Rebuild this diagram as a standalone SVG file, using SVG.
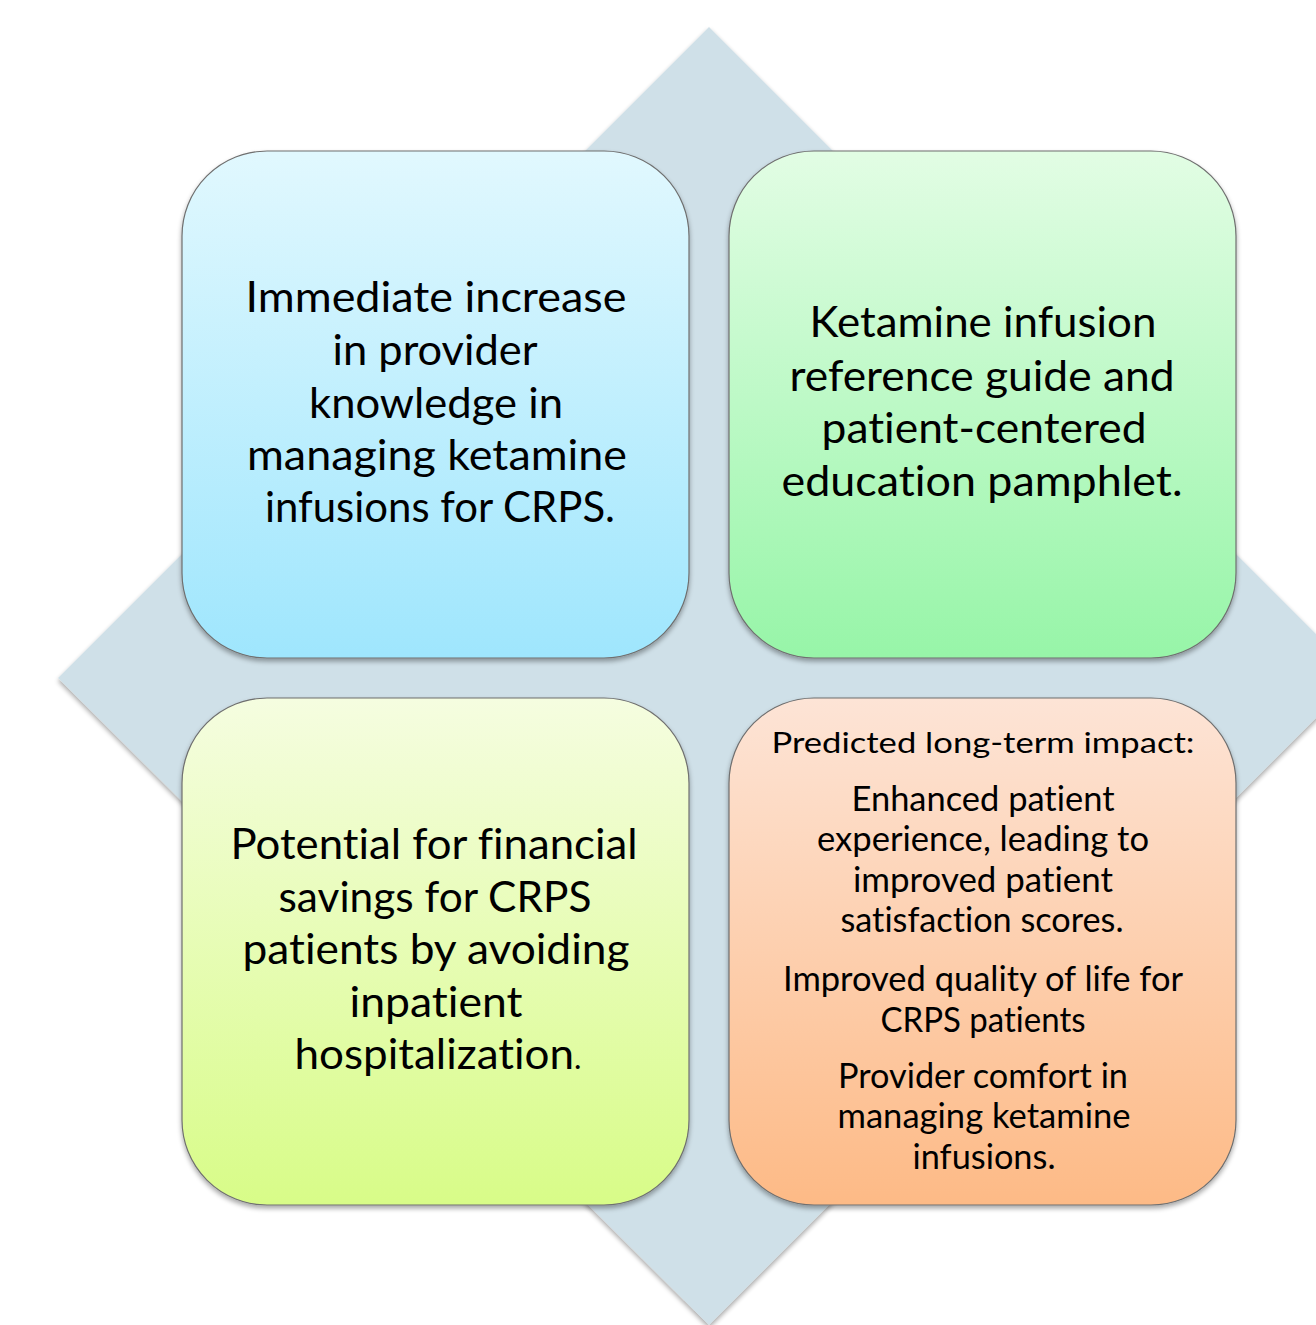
<svg xmlns="http://www.w3.org/2000/svg" width="1316" height="1325" viewBox="0 0 1316 1325">
  <defs>
    <linearGradient id="gBlue" x1="0" y1="0" x2="0" y2="1">
      <stop offset="0" stop-color="#e1f8fe"/>
      <stop offset="1" stop-color="#9fe6fd"/>
    </linearGradient>
    <linearGradient id="gGreen" x1="0" y1="0" x2="0" y2="1">
      <stop offset="0" stop-color="#e2fde4"/>
      <stop offset="1" stop-color="#97f5a8"/>
    </linearGradient>
    <linearGradient id="gLime" x1="0" y1="0" x2="0" y2="1">
      <stop offset="0" stop-color="#f5fde0"/>
      <stop offset="1" stop-color="#d8fc88"/>
    </linearGradient>
    <linearGradient id="gPeach" x1="0" y1="0" x2="0" y2="1">
      <stop offset="0" stop-color="#fde4d6"/>
      <stop offset="1" stop-color="#fdba86"/>
    </linearGradient>
    <filter id="shadow" x="-10%" y="-10%" width="120%" height="120%">
      <feGaussianBlur in="SourceAlpha" stdDeviation="2.5"/>
      <feOffset dx="0" dy="3" result="off"/>
      <feComponentTransfer><feFuncA type="linear" slope="0.35"/></feComponentTransfer>
      <feMerge><feMergeNode/><feMergeNode in="SourceGraphic"/></feMerge>
    </filter>
  </defs>
  <style>
    .box { stroke: #6f6f6f; stroke-width: 1.2; filter: url(#shadow); }
    text { font-family: Lato, "Liberation Sans", sans-serif; fill: #000; text-anchor: middle; font-variant-ligatures: none; }
    .big { font-size: 42px; }
    .mid { font-size: 35px; }
    .small { font-size: 28px; }
  </style>

  <!-- background diamond -->
  <polygon id="diamond" points="709,27 1358,676 709,1325 58,678" fill="#cfe0e8" filter="url(#shadow)"/>

  <g id="node-knowledge">
    <rect class="box" x="182" y="151" width="507" height="507" rx="85" ry="85" fill="url(#gBlue)"/>
    <text class="big" x="436" y="312" textLength="381" lengthAdjust="spacingAndGlyphs">Immediate increase</text>
    <text class="big" x="435" y="365" textLength="205" lengthAdjust="spacingAndGlyphs">in provider</text>
    <text class="big" x="436" y="418" textLength="254" lengthAdjust="spacingAndGlyphs">knowledge in</text>
    <text class="big" x="437" y="470" textLength="380" lengthAdjust="spacingAndGlyphs">managing ketamine</text>
    <text class="big" x="440" y="522" textLength="350" lengthAdjust="spacingAndGlyphs">infusions for CRPS.</text>
  </g>

  <g id="node-guide">
    <rect class="box" x="729" y="151" width="507" height="507" rx="85" ry="85" fill="url(#gGreen)"/>
    <text class="big" x="983" y="337" textLength="347" lengthAdjust="spacingAndGlyphs">Ketamine infusion</text>
    <text class="big" x="982" y="391" textLength="385" lengthAdjust="spacingAndGlyphs">reference guide and</text>
    <text class="big" x="984" y="443" textLength="325" lengthAdjust="spacingAndGlyphs">patient-centered</text>
    <text class="big" x="982" y="496" textLength="401" lengthAdjust="spacingAndGlyphs">education pamphlet.</text>
  </g>

  <g id="node-savings">
    <rect class="box" x="182" y="698" width="507" height="507" rx="85" ry="85" fill="url(#gLime)"/>
    <text class="big" x="434" y="859" textLength="407" lengthAdjust="spacingAndGlyphs">Potential for financial</text>
    <text class="big" x="435" y="912" textLength="313" lengthAdjust="spacingAndGlyphs">savings for CRPS</text>
    <text class="big" x="436" y="964" textLength="387" lengthAdjust="spacingAndGlyphs">patients by avoiding</text>
    <text class="big" x="436" y="1017" textLength="173" lengthAdjust="spacingAndGlyphs">inpatient</text>
    <text class="big" x="438" y="1069" textLength="287" lengthAdjust="spacingAndGlyphs">hospitalization<tspan font-size="30">.</tspan></text>
  </g>

  <g id="node-impact">
    <rect class="box" x="729" y="698" width="507" height="507" rx="85" ry="85" fill="url(#gPeach)"/>
    <text class="small" x="983" y="753" textLength="423" lengthAdjust="spacingAndGlyphs">Predicted long-term impact:</text>
    <text class="mid" x="983" y="811" textLength="263" lengthAdjust="spacingAndGlyphs">Enhanced patient</text>
    <text class="mid" x="983" y="851" textLength="332" lengthAdjust="spacingAndGlyphs">experience, leading to</text>
    <text class="mid" x="983" y="892" textLength="260" lengthAdjust="spacingAndGlyphs">improved patient</text>
    <text class="mid" x="982" y="932" textLength="283" lengthAdjust="spacingAndGlyphs">satisfaction scores.</text>
    <text class="mid" x="983" y="991" textLength="400" lengthAdjust="spacingAndGlyphs">Improved quality of life for</text>
    <text class="mid" x="983" y="1032" textLength="205" lengthAdjust="spacingAndGlyphs">CRPS patients</text>
    <text class="mid" x="983" y="1088" textLength="290" lengthAdjust="spacingAndGlyphs">Provider comfort in</text>
    <text class="mid" x="984" y="1128" textLength="293" lengthAdjust="spacingAndGlyphs">managing ketamine</text>
    <text class="mid" x="984" y="1169" textLength="143" lengthAdjust="spacingAndGlyphs">infusions.</text>
  </g>

  <!-- no connectors in this figure -->
  <g id="connectors"/>
</svg>
